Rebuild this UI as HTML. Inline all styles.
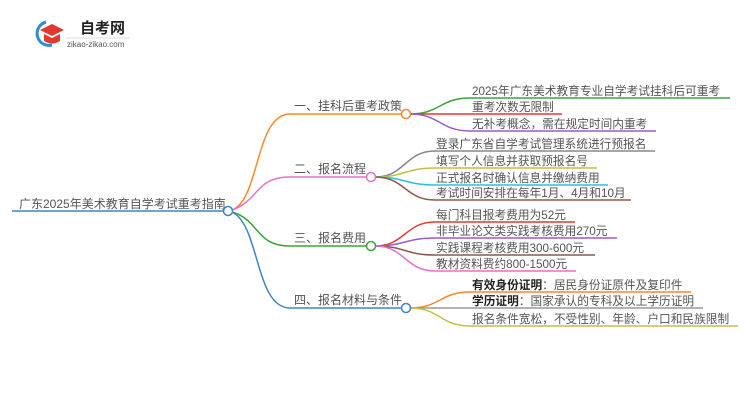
<!DOCTYPE html>
<html><head><meta charset="utf-8"><style>
body{margin:0;background:#fff;width:750px;height:410px;overflow:hidden}
svg text{font-family:"Liberation Sans","Noto Sans CJK SC",sans-serif;font-size:11.7px;fill:#555}
</style></head><body>
<svg width="750" height="410" viewBox="0 0 750 410" xmlns="http://www.w3.org/2000/svg">
<g fill="none" stroke-width="1.5">
<path d="M46 22 A11 11 0 1 0 52 45" stroke="#2a8fd8" stroke-width="3"/>
<path d="M40 30 L52 24 L64 30 L52 36 Z" fill="#e03a2f" stroke="none"/>
<path d="M44 34 L44 41 Q52 46 60 41 L60 34 L52 38 Z" fill="#e03a2f" stroke="none"/>
<line x1="66" y1="38" x2="130" y2="38" stroke="#ddd" stroke-width="1"/>
<line x1="12" y1="211" x2="225" y2="211" stroke="#3d85c6"/>
<path d="M232 210 C260 200 255 114 290 114 L402 114" stroke="#f5892b"/>
<path d="M232 210 C260 200 255 177 290 177 L367 177" stroke="#e86fcc"/>
<path d="M232 212 C260 220 255 246 290 246 L367 246" stroke="#3aa53a"/>
<path d="M232 212 C260 225 255 308 290 308 L402 308" stroke="#3d85c6"/>
<path d="M410 114 C440 114 440 98 470 98 L730 98" stroke="#3aa53a"/>
<path d="M410 114 L562 114" stroke="#e03a2f"/>
<path d="M410 114 C440 114 440 131 470 131 L656 131" stroke="#9b59d0"/>
<path d="M375 177 C405 177 405 151 435 151 L655 151" stroke="#888"/>
<path d="M375 177 C405 177 405 168 435 168 L597 168" stroke="#c1c23a"/>
<path d="M375 177 C405 177 405 185 435 185 L608 185" stroke="#2bc0d8"/>
<path d="M375 177 C405 177 405 200 435 200 L631 200" stroke="#8d5a4a"/>
<path d="M375 246 C405 246 405 222 435 222 L575 222" stroke="#e03a2f"/>
<path d="M375 246 C405 246 405 238 435 238 L617 238" stroke="#9b59d0"/>
<path d="M375 246 C405 246 405 255 435 255 L595 255" stroke="#8d5a4a"/>
<path d="M375 246 C405 246 405 271 435 271 L576 271" stroke="#e86fcc"/>
<path d="M410 308 C440 308 440 292 470 292 L691 292" stroke="#f5892b"/>
<path d="M410 308 L703 308" stroke="#999"/>
<path d="M410 308 C440 308 440 326 470 326 L738 326" stroke="#c1c23a"/>
<circle cx="228" cy="211" r="4.5" fill="#fff" stroke="#3d85c6"/>
<circle cx="406" cy="114" r="4.5" fill="#fff" stroke="#f5892b"/>
<circle cx="371" cy="177" r="4.5" fill="#fff" stroke="#e86fcc"/>
<circle cx="371" cy="246" r="4.5" fill="#fff" stroke="#3aa53a"/>
<circle cx="406" cy="308" r="4.5" fill="#fff" stroke="#3d85c6"/>
</g>
<text x="80" y="33" style="font-size:15px;font-weight:bold;fill:#222">自考网</text>
<text x="67" y="47" style="font-size:8px;fill:#555">zikao-zikao.com</text>
<text x="19" y="208" style="font-size:12px">广东2025年美术教育自学考试重考指南</text>
<text x="294" y="110" style="font-size:12px">一、挂科后重考政策</text>
<text x="294" y="173" style="font-size:12px">二、报名流程</text>
<text x="294" y="242" style="font-size:12px">三、报名费用</text>
<text x="294" y="304" style="font-size:12px">四、报名材料与条件</text>
<text x="472" y="95">2025年广东美术教育专业自学考试挂科后可重考</text>
<text x="472" y="111">重考次数无限制</text>
<text x="472" y="128">无补考概念，需在规定时间内重考</text>
<text x="436" y="148">登录广东省自学考试管理系统进行预报名</text>
<text x="436" y="165">填写个人信息并获取预报名号</text>
<text x="436" y="182">正式报名时确认信息并缴纳费用</text>
<text x="436" y="197">考试时间安排在每年1月、4月和10月</text>
<text x="436" y="219">每门科目报考费用为52元</text>
<text x="436" y="235">非毕业论文类实践考核费用270元</text>
<text x="436" y="252">实践课程考核费用300-600元</text>
<text x="436" y="268">教材资料费约800-1500元</text>
<text x="472" y="289"><tspan style="font-weight:bold;fill:#222">有效身份证明</tspan>：居民身份证原件及复印件</text>
<text x="472" y="305"><tspan style="font-weight:bold;fill:#222">学历证明</tspan>：国家承认的专科及以上学历证明</text>
<text x="472" y="323">报名条件宽松，不受性别、年龄、户口和民族限制</text>
</svg>
</body></html>
